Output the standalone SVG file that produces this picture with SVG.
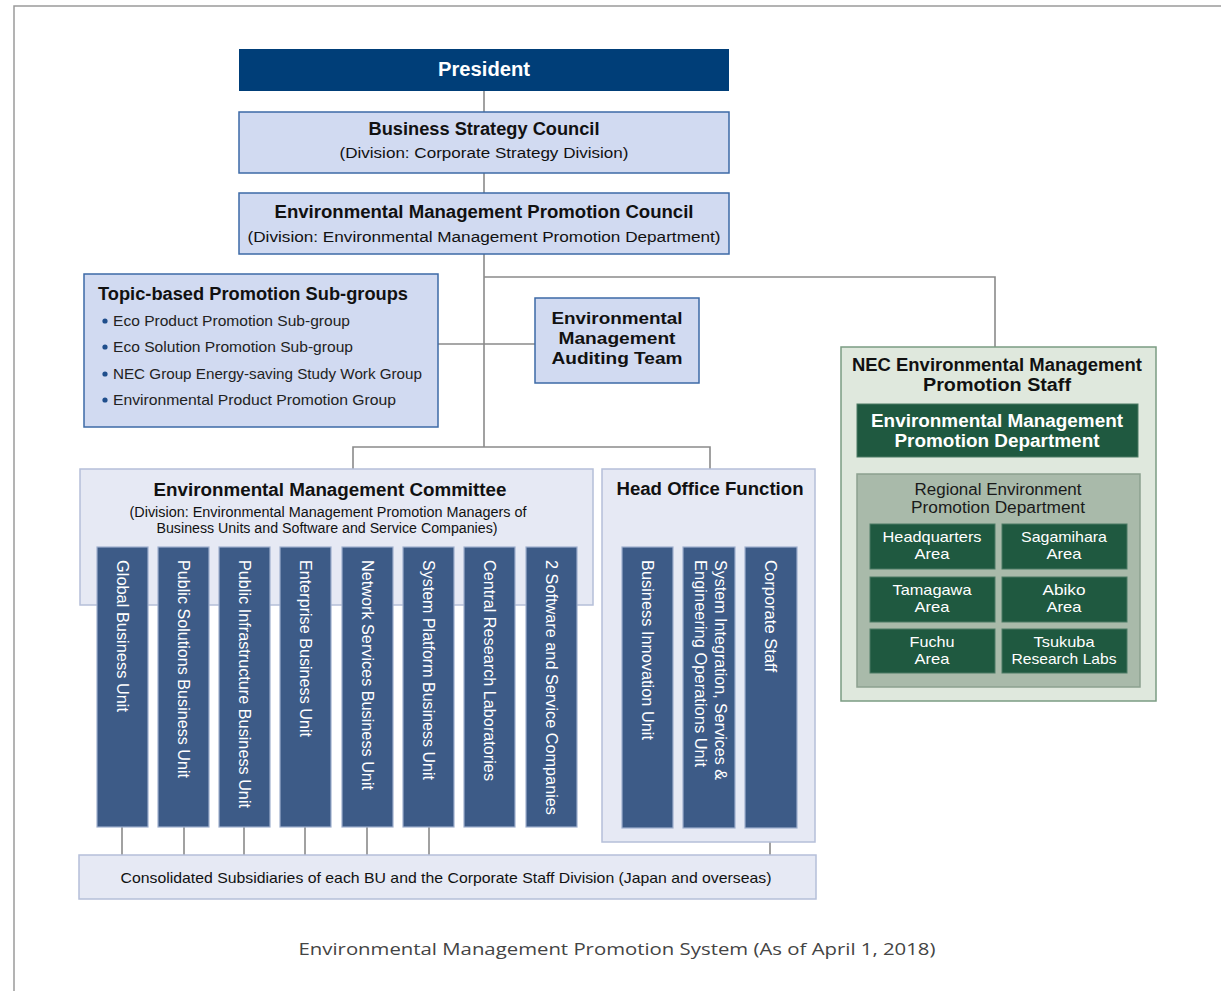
<svg xmlns="http://www.w3.org/2000/svg" width="1221" height="991" viewBox="0 0 1221 991">
<style>
text{font-family:"Liberation Sans","Noto Sans",sans-serif;}
.cap{font-family:"Open Sans","Noto Sans","Liberation Sans",sans-serif;}
.b{font-weight:bold;}
.c{text-anchor:middle;}
.nb{fill:#003e78;}
.lb{fill:#d1daf1;stroke:#3d6aa6;stroke-width:1.5;}
.pb{fill:#e6e9f4;stroke:#b5bfd9;stroke-width:1.5;}
.bar{fill:#3d5b87;stroke:#9fb0cd;stroke-width:1.2;}
.gl{fill:#dfe8dd;stroke:#7b9c83;stroke-width:1.5;}
.dg{fill:#1f5940;stroke:#4d7b64;stroke-width:1;}
.rg{fill:#a9baaa;stroke:#8ca08f;stroke-width:1.5;}
.cn{stroke:#8a8a8a;stroke-width:1.6;fill:none;}
.w{fill:#ffffff;}
.k{fill:#111111;}
.vt{fill:#ffffff;font-size:16px;}
</style>
<rect x="0" y="0" width="1221" height="991" fill="#ffffff"/>
<path d="M14 991 V6 H1221" fill="none" stroke="#9a9a9a" stroke-width="1.5"/>

<g id="connectors" class="cn">
<path d="M484 91 V112"/>
<path d="M484 173 V193"/>
<path d="M484 254 V447"/>
<path d="M484 277 H995 V347"/>
<path d="M438 344 H535"/>
<path d="M353 469 V447 H710 V469"/>
<path d="M997 457 V474"/>
<path d="M122 827 V855"/>
<path d="M184 827 V855"/>
<path d="M244 827 V855"/>
<path d="M305 827 V855"/>
<path d="M367 827 V855"/>
<path d="M429 827 V855"/>
<path d="M770 828 V855"/>
</g>

<g id="president">
<rect class="nb" x="239" y="49" width="490" height="42"/>
<text class="b c w" x="484" y="76" font-size="20" textLength="92" lengthAdjust="spacingAndGlyphs">President</text>
</g>

<g id="business-strategy-council">
<rect class="lb" x="239" y="112" width="490" height="61"/>
<text class="b c k" x="484" y="135" font-size="18" textLength="231" lengthAdjust="spacingAndGlyphs">Business Strategy Council</text>
<text class="c k" x="484" y="158" font-size="15.5" textLength="289" lengthAdjust="spacingAndGlyphs">(Division: Corporate Strategy Division)</text>
</g>

<g id="emp-council">
<rect class="lb" x="239" y="193" width="490" height="61"/>
<text class="b c k" x="484" y="218" font-size="18" textLength="419" lengthAdjust="spacingAndGlyphs">Environmental Management Promotion Council</text>
<text class="c k" x="484" y="242" font-size="15.5" textLength="473" lengthAdjust="spacingAndGlyphs">(Division: Environmental Management Promotion Department)</text>
</g>

<g id="topic-subgroups">
<rect class="lb" x="84" y="274" width="354" height="153"/>
<text class="b k" x="98" y="300" font-size="18" textLength="310" lengthAdjust="spacingAndGlyphs">Topic-based Promotion Sub-groups</text>
<g fill="#1f4e8c">
<circle cx="105" cy="321" r="2.6"/>
<circle cx="105" cy="347" r="2.6"/>
<circle cx="105" cy="374" r="2.6"/>
<circle cx="105" cy="400" r="2.6"/>
</g>
<text fill="#222" x="113" y="326" font-size="15" textLength="237" lengthAdjust="spacingAndGlyphs">Eco Product Promotion Sub-group</text>
<text fill="#222" x="113" y="352" font-size="15" textLength="240" lengthAdjust="spacingAndGlyphs">Eco Solution Promotion Sub-group</text>
<text fill="#222" x="113" y="379" font-size="15" textLength="309" lengthAdjust="spacingAndGlyphs">NEC Group Energy-saving Study Work Group</text>
<text fill="#222" x="113" y="405" font-size="15" textLength="283" lengthAdjust="spacingAndGlyphs">Environmental Product Promotion Group</text>
</g>

<g id="auditing-team">
<rect class="lb" x="535" y="298" width="164" height="85"/>
<text class="b c k" x="617" y="324" font-size="17" textLength="131" lengthAdjust="spacingAndGlyphs">Environmental</text>
<text class="b c k" x="617" y="344" font-size="17" textLength="117" lengthAdjust="spacingAndGlyphs">Management</text>
<text class="b c k" x="617" y="364" font-size="17" textLength="131" lengthAdjust="spacingAndGlyphs">Auditing Team</text>
</g>

<g id="nec-staff">
<rect class="gl" x="841" y="347" width="315" height="354"/>
<text class="b c k" x="997" y="371" font-size="17.5" textLength="290" lengthAdjust="spacingAndGlyphs">NEC Environmental Management</text>
<text class="b c k" x="997" y="391" font-size="17.5" textLength="148" lengthAdjust="spacingAndGlyphs">Promotion Staff</text>
</g>

<g id="emp-department">
<rect class="dg" x="857" y="404" width="281" height="53"/>
<text class="b c w" x="997" y="427" font-size="17.5" textLength="252" lengthAdjust="spacingAndGlyphs">Environmental Management</text>
<text class="b c w" x="997" y="447" font-size="17.5" textLength="205" lengthAdjust="spacingAndGlyphs">Promotion Department</text>
</g>

<g id="regional-department">
<rect class="rg" x="857" y="474" width="283" height="213"/>
<text class="c" fill="#1a1a1a" x="998" y="495" font-size="16" textLength="167" lengthAdjust="spacingAndGlyphs">Regional Environment</text>
<text class="c" fill="#1a1a1a" x="998" y="513" font-size="16" textLength="174" lengthAdjust="spacingAndGlyphs">Promotion Department</text>
</g>

<g id="hq-area">
<rect class="dg" x="870" y="524" width="125" height="45"/>
<text class="c w" x="932" y="542" font-size="15" textLength="99" lengthAdjust="spacingAndGlyphs">Headquarters</text>
<text class="c w" x="932" y="559" font-size="15" textLength="35" lengthAdjust="spacingAndGlyphs">Area</text>
</g>
<g id="sagamihara-area">
<rect class="dg" x="1002" y="524" width="125" height="45"/>
<text class="c w" x="1064" y="542" font-size="15" textLength="86" lengthAdjust="spacingAndGlyphs">Sagamihara</text>
<text class="c w" x="1064" y="559" font-size="15" textLength="35" lengthAdjust="spacingAndGlyphs">Area</text>
</g>
<g id="tamagawa-area">
<rect class="dg" x="870" y="577" width="125" height="45"/>
<text class="c w" x="932" y="595" font-size="15" textLength="79" lengthAdjust="spacingAndGlyphs">Tamagawa</text>
<text class="c w" x="932" y="612" font-size="15" textLength="35" lengthAdjust="spacingAndGlyphs">Area</text>
</g>
<g id="abiko-area">
<rect class="dg" x="1002" y="577" width="125" height="45"/>
<text class="c w" x="1064" y="595" font-size="15" textLength="43" lengthAdjust="spacingAndGlyphs">Abiko</text>
<text class="c w" x="1064" y="612" font-size="15" textLength="35" lengthAdjust="spacingAndGlyphs">Area</text>
</g>
<g id="fuchu-area">
<rect class="dg" x="870" y="629" width="125" height="44"/>
<text class="c w" x="932" y="647" font-size="15" textLength="45" lengthAdjust="spacingAndGlyphs">Fuchu</text>
<text class="c w" x="932" y="664" font-size="15" textLength="35" lengthAdjust="spacingAndGlyphs">Area</text>
</g>
<g id="tsukuba-labs">
<rect class="dg" x="1002" y="629" width="125" height="44"/>
<text class="c w" x="1064" y="647" font-size="15" textLength="61" lengthAdjust="spacingAndGlyphs">Tsukuba</text>
<text class="c w" x="1064" y="664" font-size="15" textLength="105" lengthAdjust="spacingAndGlyphs">Research Labs</text>
</g>

<g id="committee">
<rect class="pb" x="80" y="469" width="513" height="136"/>
<text class="b c k" x="330" y="496" font-size="18" textLength="353" lengthAdjust="spacingAndGlyphs">Environmental Management Committee</text>
<text class="c k" x="328" y="517" font-size="14" textLength="397" lengthAdjust="spacingAndGlyphs">(Division: Environmental Management Promotion Managers of</text>
<text class="c k" x="327" y="533" font-size="14" textLength="341" lengthAdjust="spacingAndGlyphs">Business Units and Software and Service Companies)</text>
</g>

<g id="head-office">
<rect class="pb" x="602" y="469" width="213" height="373"/>
<text class="b c k" x="710" y="495" font-size="18" textLength="187" lengthAdjust="spacingAndGlyphs">Head Office Function</text>
</g>

<g id="global-bu">
<rect class="bar" x="97" y="547" width="51" height="280"/>
<text class="vt" transform="translate(117,560) rotate(90)" textLength="152" lengthAdjust="spacingAndGlyphs">Global Business Unit</text>
</g>
<g id="public-solutions-bu">
<rect class="bar" x="158" y="547" width="51" height="280"/>
<text class="vt" transform="translate(178,560) rotate(90)" textLength="218" lengthAdjust="spacingAndGlyphs">Public Solutions Business Unit</text>
</g>
<g id="public-infra-bu">
<rect class="bar" x="219" y="547" width="51" height="280"/>
<text class="vt" transform="translate(239,560) rotate(90)" textLength="248" lengthAdjust="spacingAndGlyphs">Public Infrastructure Business Unit</text>
</g>
<g id="enterprise-bu">
<rect class="bar" x="280" y="547" width="51" height="280"/>
<text class="vt" transform="translate(300,560) rotate(90)" textLength="177" lengthAdjust="spacingAndGlyphs">Enterprise Business Unit</text>
</g>
<g id="network-services-bu">
<rect class="bar" x="342" y="547" width="51" height="280"/>
<text class="vt" transform="translate(362,560) rotate(90)" textLength="230" lengthAdjust="spacingAndGlyphs">Network Services Business Unit</text>
</g>
<g id="system-platform-bu">
<rect class="bar" x="403" y="547" width="51" height="280"/>
<text class="vt" transform="translate(423,560) rotate(90)" textLength="220" lengthAdjust="spacingAndGlyphs">System Platform Business Unit</text>
</g>
<g id="central-research-labs">
<rect class="bar" x="464" y="547" width="51" height="280"/>
<text class="vt" transform="translate(484,560) rotate(90)" textLength="221" lengthAdjust="spacingAndGlyphs">Central Research Laboratories</text>
</g>
<g id="software-service-cos">
<rect class="bar" x="526" y="547" width="51" height="280"/>
<text class="vt" transform="translate(546,560) rotate(90)" textLength="255" lengthAdjust="spacingAndGlyphs">2 Software and Service Companies</text>
</g>

<g id="business-innovation-unit">
<rect class="bar" x="622" y="547" width="51" height="281"/>
<text class="vt" transform="translate(642,560) rotate(90)" textLength="180" lengthAdjust="spacingAndGlyphs">Business Innovation Unit</text>
</g>
<g id="si-services-eng-unit">
<rect class="bar" x="683" y="547" width="52" height="281"/>
<text class="vt" transform="translate(715,560) rotate(90)" textLength="220" lengthAdjust="spacingAndGlyphs">System Integration, Services &amp;</text>
<text class="vt" transform="translate(695,560) rotate(90)" textLength="207" lengthAdjust="spacingAndGlyphs">Engineering Operations Unit</text>
</g>
<g id="corporate-staff">
<rect class="bar" x="745" y="547" width="52" height="281"/>
<text class="vt" transform="translate(765,560) rotate(90)" textLength="112" lengthAdjust="spacingAndGlyphs">Corporate Staff</text>
</g>

<g id="consolidated-subsidiaries">
<rect class="pb" x="79" y="855" width="737" height="44"/>
<text class="c k" x="446" y="883" font-size="15" textLength="651" lengthAdjust="spacingAndGlyphs">Consolidated Subsidiaries of each BU and the Corporate Staff Division (Japan and overseas)</text>
</g>

<text class="c cap" fill="#444" x="617" y="955" font-size="17" textLength="637" lengthAdjust="spacingAndGlyphs">Environmental Management Promotion System (As of April 1, 2018)</text>
</svg>
